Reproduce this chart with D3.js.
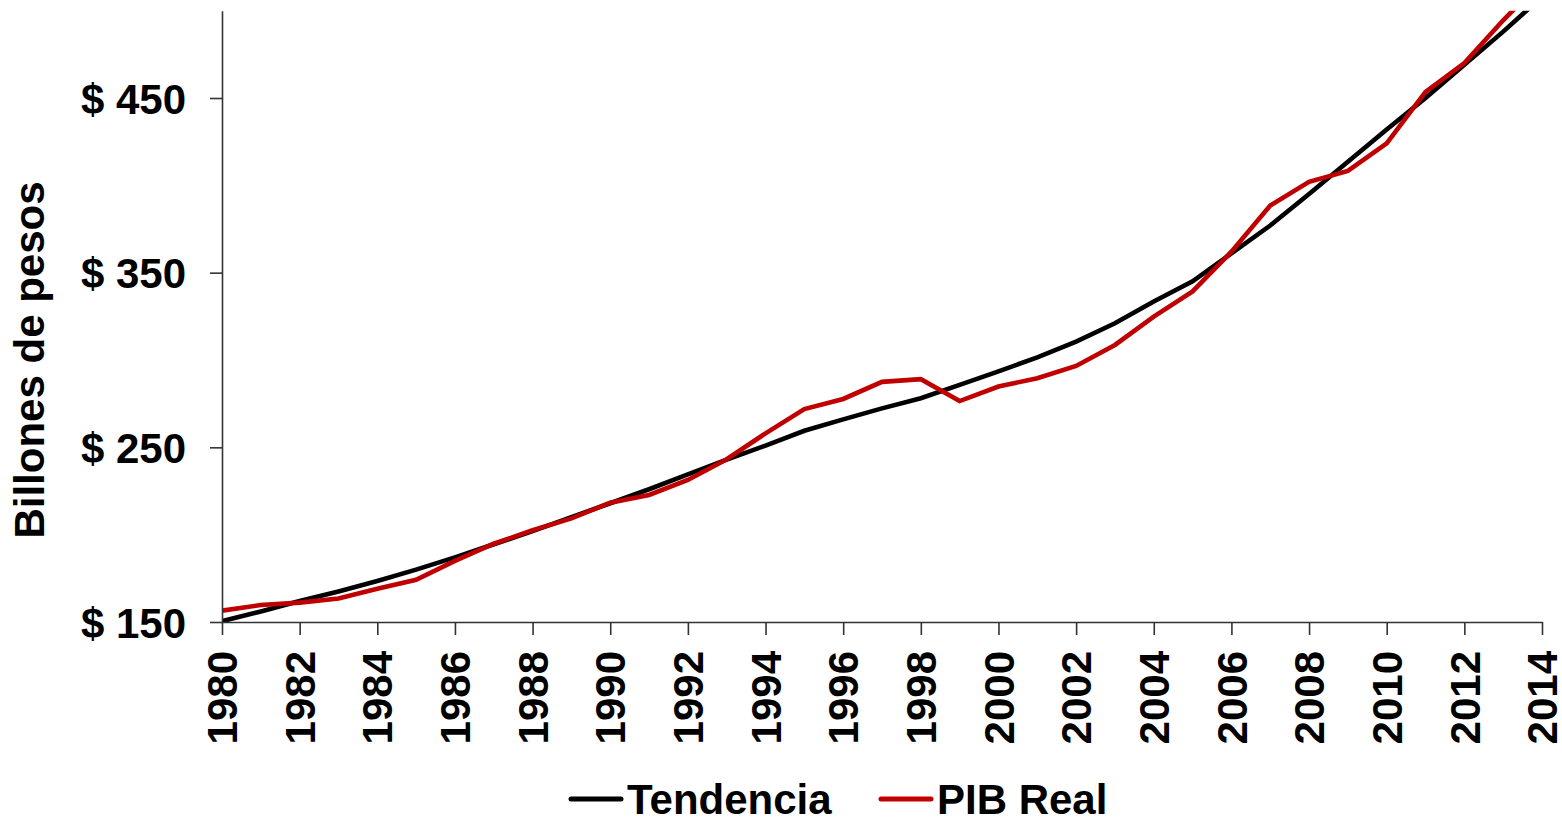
<!DOCTYPE html>
<html>
<head>
<meta charset="utf-8">
<script src="https://cdn.jsdelivr.net/npm/d3@7"></script>
<style>
html, body { margin: 0; padding: 0; background: #fff; }
svg { display: block; font-family: "Liberation Sans", Arial, sans-serif; font-weight: bold; }
</style>
</head>
<body>
<svg id="chart" width="1562" height="817"></svg>
<script>
const years = d3.range(1980, 2015);
const tendencia = [150.5, 156, 162, 167.5, 173.5, 180, 187, 194.5, 202, 210,
  218, 226, 234.5, 243, 251, 259.5, 266, 272.3, 278.1, 285.8,
  293.5, 301.5, 310.5, 321, 333.5, 345, 361, 377, 395, 413.5,
  432, 450, 469, 488, 508];
const pibReal = [156.5, 159.7, 161.1, 163.5, 169, 174.2, 185, 194.8, 202.5, 209.3,
  218.3, 222.7, 231.3, 243.2, 258, 271.9, 277.7, 287.5, 289, 276.5,
  284.8, 289.6, 296.6, 308.6, 324.8, 339.3, 362, 388.4, 402, 408.3,
  424, 453.5, 470, 494.5, 517];
const yTicks = [150, 250, 350, 450];
const xTicks = d3.range(1980, 2015, 2);
const seriesNames = ["Tendencia", "PIB Real"];
const seriesColors = ["#000000", "#C00000"];

const svg = d3.select("#chart");
const pLeft = 222, pRight = 1542, pTop = 10.67, pBottom = 622;
const x = d3.scaleLinear().domain([1980, 2014]).range([pLeft, pRight]);
const y = d3.scaleLinear().domain([150, 500]).range([pBottom, pTop]);

svg.append("defs").append("clipPath").attr("id", "clip")
  .append("rect").attr("x", pLeft).attr("y", pTop).attr("width", pRight - pLeft).attr("height", pBottom - pTop);

const line = d3.line().x((d, i) => x(years[i])).y(d => y(d));
const g = svg.append("g").attr("clip-path", "url(#clip)");
[tendencia, pibReal].forEach((s, k) => {
  g.append("path").datum(s).attr("d", line)
    .attr("fill", "none").attr("stroke", seriesColors[k]).attr("stroke-width", 4.6)
    .attr("stroke-linejoin", "miter");
});

// X axis
const xAxis = svg.append("g").attr("transform", `translate(0,${pBottom})`)
  .call(d3.axisBottom(x).tickValues(xTicks).tickSize(13).tickSizeOuter(0).tickFormat(d3.format("d")));
xAxis.select(".domain").attr("stroke", "#333").attr("stroke-width", 1.6);
xAxis.selectAll(".tick line").attr("stroke", "#333").attr("stroke-width", 1.6);
xAxis.selectAll(".tick text")
  .attr("font-size", 42).attr("font-weight", "bold").attr("fill", "#000")
  .attr("font-family", "Liberation Sans, Arial, sans-serif")
  .attr("text-anchor", "end").attr("dy", "0.35em").attr("y", 0)
  .attr("transform", "translate(0,29) rotate(-90)");

// Y axis
const yAxis = svg.append("g").attr("transform", `translate(${pLeft},0)`)
  .call(d3.axisLeft(y).tickValues(yTicks).tickSize(12).tickSizeOuter(0).tickFormat(d => "$ " + d));
yAxis.select(".domain").attr("stroke", "#333").attr("stroke-width", 1.6);
yAxis.selectAll(".tick line").attr("stroke", "#333").attr("stroke-width", 1.6);
yAxis.selectAll(".tick text")
  .attr("font-size", 42).attr("font-weight", "bold").attr("fill", "#000")
  .attr("font-family", "Liberation Sans, Arial, sans-serif")
  .attr("x", -36).attr("dy", "0.36em");

// Y title
svg.append("text")
  .attr("transform", "translate(44,360) rotate(-90)")
  .attr("text-anchor", "middle")
  .attr("font-size", 42).attr("fill", "#000")
  .text("Billones de pesos");

// Legend
const legendItems = [
  { name: seriesNames[0], color: seriesColors[0], x0: 569 },
  { name: seriesNames[1], color: seriesColors[1], x0: 879 }
];
const lg = svg.append("g");
legendItems.forEach(it => {
  lg.append("line").attr("x1", it.x0 + 2).attr("x2", it.x0 + 52).attr("y1", 799).attr("y2", 799)
    .attr("stroke", it.color).attr("stroke-width", 5).attr("stroke-linecap", "round");
  lg.append("text").attr("x", it.x0 + 58).attr("y", 799).attr("dy", "0.36em")
    .attr("font-size", 42).attr("fill", "#000").text(it.name);
});
</script>
</body>
</html>
